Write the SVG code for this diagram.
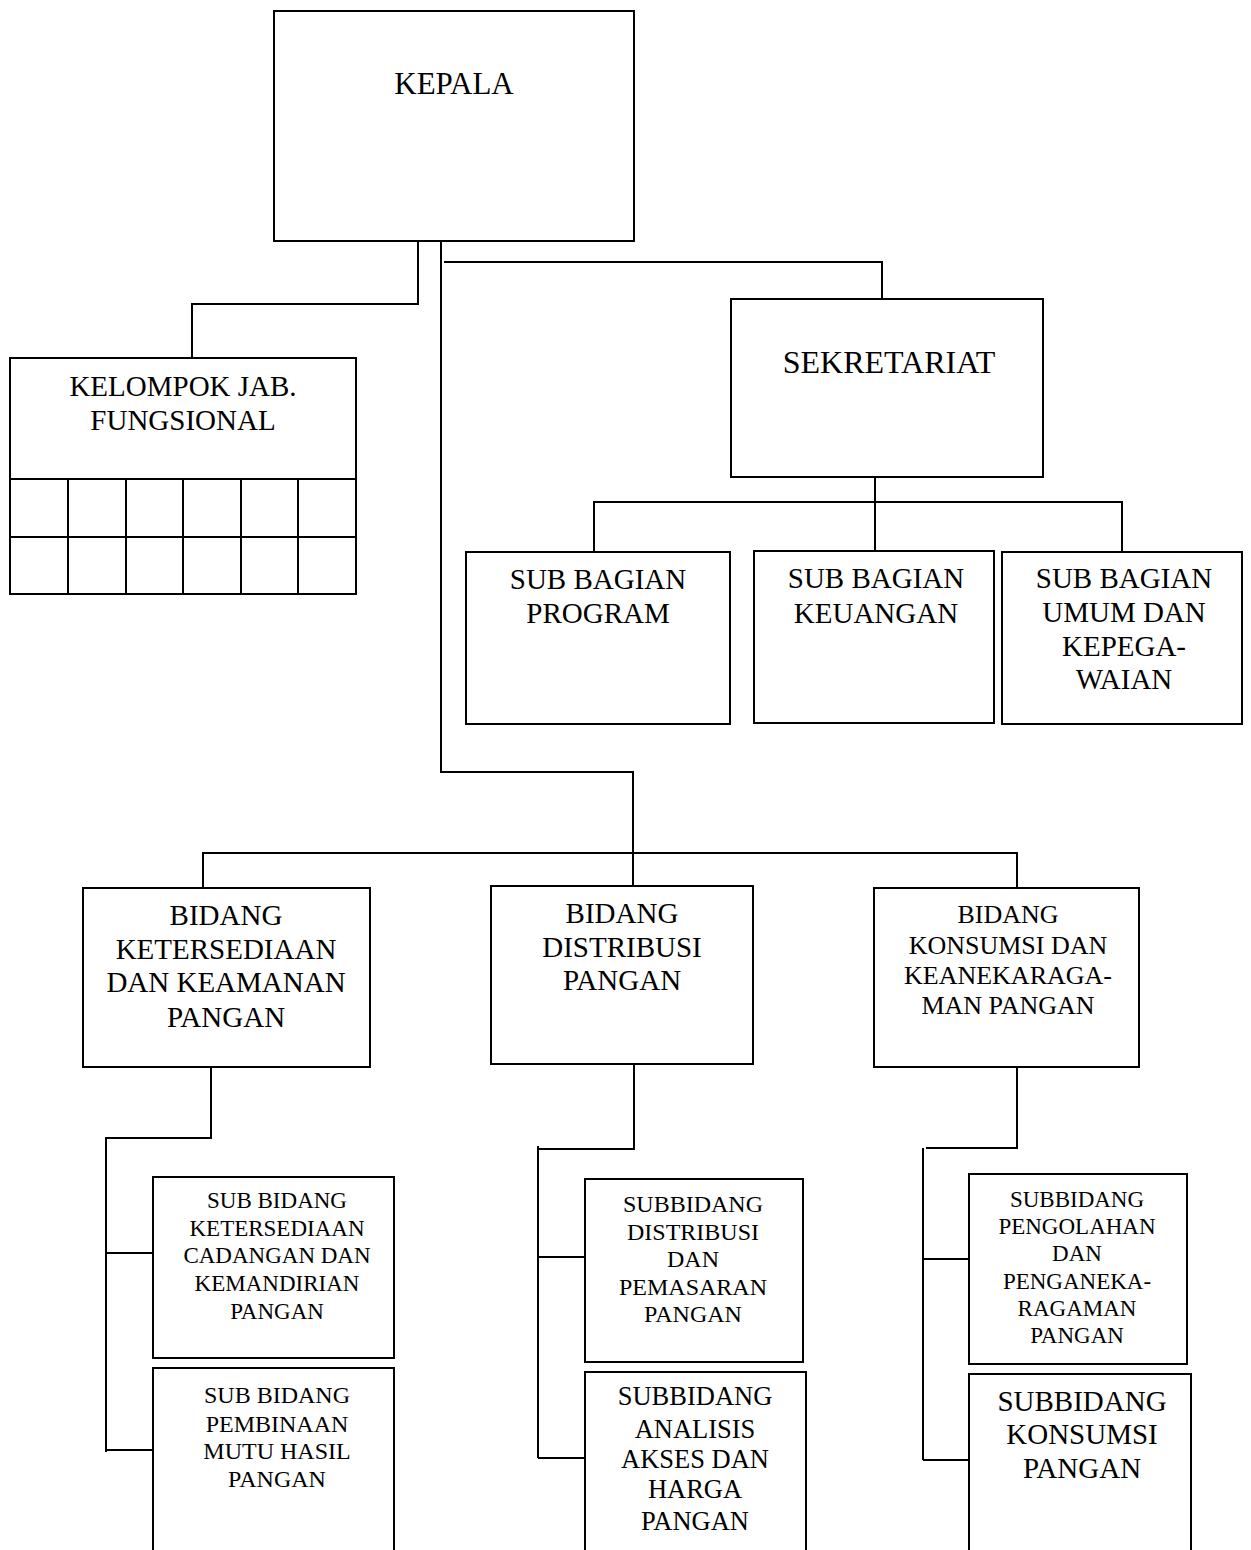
<svg xmlns="http://www.w3.org/2000/svg" width="1251" height="1550" viewBox="0 0 1251 1550">
<style>
rect.b{fill:#fff;stroke:#000;stroke-width:2}
.c line,.c polyline{stroke:#000;stroke-width:2;fill:none}
text{font-family:"Liberation Serif","Times New Roman",serif;fill:#000;text-anchor:middle}
.f31{font-size:31px}.f32{font-size:32px}.f29{font-size:29px}.f26{font-size:26px}.f24{font-size:24px}.f23{font-size:23px}.f265{font-size:26.5px}
</style>
<rect width="1251" height="1550" fill="#fff"/>
<g class="c" id="connectors">
<polyline points="418,241 418,304 192,304 192,358"/>
<line x1="441" y1="241" x2="441" y2="772"/>
<polyline points="444,262 882,262 882,299"/>
<line x1="875" y1="477" x2="875" y2="552"/>
<polyline points="594,552 594,502 1122,502 1122,552"/>
<polyline points="440,772 633,772 633,885"/>
<polyline points="203,888 203,853 1017,853 1017,888"/>
<polyline points="211,1067 211,1138 106,1138 106,1452"/>
<line x1="106" y1="1253" x2="158" y2="1253"/>
<line x1="106" y1="1450" x2="158" y2="1450"/>
<polyline points="634,1064 634,1149 538,1149"/>
<line x1="538" y1="1146" x2="538" y2="1458"/>
<line x1="538" y1="1257" x2="585" y2="1257"/>
<line x1="538" y1="1458" x2="585" y2="1458"/>
<polyline points="1017,1067 1017,1148 926,1148"/>
<line x1="923" y1="1148" x2="923" y2="1460"/>
<line x1="923" y1="1259" x2="969" y2="1259"/>
<line x1="923" y1="1460" x2="969" y2="1460"/>
</g>
<g id="kepala">
<rect class="b" x="274" y="11" width="360" height="230"/>
<text class="f31" x="454" y="94">KEPALA</text>
</g>
<g id="kelompok">
<rect class="b" x="10" y="358" width="346" height="236"/>
<g class="c">
<line x1="10" y1="479" x2="356" y2="479"/>
<line x1="10" y1="537" x2="356" y2="537"/>
<line x1="68" y1="479" x2="68" y2="594"/>
<line x1="126" y1="479" x2="126" y2="594"/>
<line x1="183" y1="479" x2="183" y2="594"/>
<line x1="241" y1="479" x2="241" y2="594"/>
<line x1="298" y1="479" x2="298" y2="594"/>
</g>
<text class="f29" x="183" y="396">KELOMPOK JAB.</text>
<text class="f29" x="183" y="430">FUNGSIONAL</text>
</g>
<g id="sekretariat">
<rect class="b" x="731" y="299" width="312" height="178"/>
<text class="f32" x="889" y="373">SEKRETARIAT</text>
</g>
<g id="subbag-program">
<rect class="b" x="466" y="552" width="264" height="172"/>
<text class="f29" x="598" y="589">SUB BAGIAN</text>
<text class="f29" x="598" y="623">PROGRAM</text>
</g>
<g id="subbag-keuangan">
<rect class="b" x="754" y="551" width="240" height="172"/>
<text class="f29" x="876" y="588">SUB BAGIAN</text>
<text class="f29" x="876" y="623">KEUANGAN</text>
</g>
<g id="subbag-umum">
<rect class="b" x="1002" y="552" width="240" height="172"/>
<text class="f29" x="1124" y="588">SUB BAGIAN</text>
<text class="f29" x="1124" y="622">UMUM DAN</text>
<text class="f29" x="1124" y="656">KEPEGA-</text>
<text class="f29" x="1124" y="689">WAIAN</text>
</g>
<g id="bidang-ketersediaan">
<rect class="b" x="83" y="888" width="287" height="179"/>
<text class="f29" x="226" y="925">BIDANG</text>
<text class="f29" x="226" y="959">KETERSEDIAAN</text>
<text class="f29" x="226" y="992">DAN KEAMANAN</text>
<text class="f29" x="226" y="1027">PANGAN</text>
</g>
<g id="bidang-distribusi">
<rect class="b" x="491" y="886" width="262" height="178"/>
<text class="f29" x="622" y="923">BIDANG</text>
<text class="f29" x="622" y="957">DISTRIBUSI</text>
<text class="f29" x="622" y="990">PANGAN</text>
</g>
<g id="bidang-konsumsi">
<rect class="b" x="874" y="888" width="265" height="179"/>
<text class="f26" x="1008" y="923">BIDANG</text>
<text class="f26" x="1008" y="954">KONSUMSI DAN</text>
<text class="f26" x="1008" y="984">KEANEKARAGA-</text>
<text class="f26" x="1008" y="1014">MAN PANGAN</text>
</g>
<g id="subbid-cadangan">
<rect class="b" x="153" y="1177" width="241" height="181"/>
<text class="f23" x="277" y="1208">SUB BIDANG</text>
<text class="f23" x="277" y="1236">KETERSEDIAAN</text>
<text class="f23" x="277" y="1263">CADANGAN DAN</text>
<text class="f23" x="277" y="1291">KEMANDIRIAN</text>
<text class="f23" x="277" y="1319">PANGAN</text>
</g>
<g id="subbid-mutu">
<rect class="b" x="153" y="1368" width="241" height="200"/>
<text class="f24" x="277" y="1403">SUB BIDANG</text>
<text class="f24" x="277" y="1432">PEMBINAAN</text>
<text class="f24" x="277" y="1459">MUTU HASIL</text>
<text class="f24" x="277" y="1487">PANGAN</text>
</g>
<g id="subbid-distribusi">
<rect class="b" x="585" y="1179" width="218" height="183"/>
<text class="f24" x="693" y="1212">SUBBIDANG</text>
<text class="f24" x="693" y="1240">DISTRIBUSI</text>
<text class="f24" x="693" y="1267">DAN</text>
<text class="f24" x="693" y="1295">PEMASARAN</text>
<text class="f24" x="693" y="1322">PANGAN</text>
</g>
<g id="subbid-akses">
<rect class="b" x="585" y="1372" width="221" height="200"/>
<text class="f265" x="695" y="1405">SUBBIDANG</text>
<text class="f265" x="695" y="1438">ANALISIS</text>
<text class="f265" x="695" y="1468">AKSES DAN</text>
<text class="f265" x="695" y="1498">HARGA</text>
<text class="f265" x="695" y="1530">PANGAN</text>
</g>
<g id="subbid-pengolahan">
<rect class="b" x="969" y="1174" width="218" height="190"/>
<text class="f23" x="1077" y="1207">SUBBIDANG</text>
<text class="f23" x="1077" y="1234">PENGOLAHAN</text>
<text class="f23" x="1077" y="1261">DAN</text>
<text class="f23" x="1077" y="1289">PENGANEKA-</text>
<text class="f23" x="1077" y="1316">RAGAMAN</text>
<text class="f23" x="1077" y="1343">PANGAN</text>
</g>
<g id="subbid-konsumsi">
<rect class="b" x="969" y="1374" width="222" height="200"/>
<text class="f29" x="1082" y="1411">SUBBIDANG</text>
<text class="f29" x="1082" y="1444">KONSUMSI</text>
<text class="f29" x="1082" y="1478">PANGAN</text>
</g>
</svg>
